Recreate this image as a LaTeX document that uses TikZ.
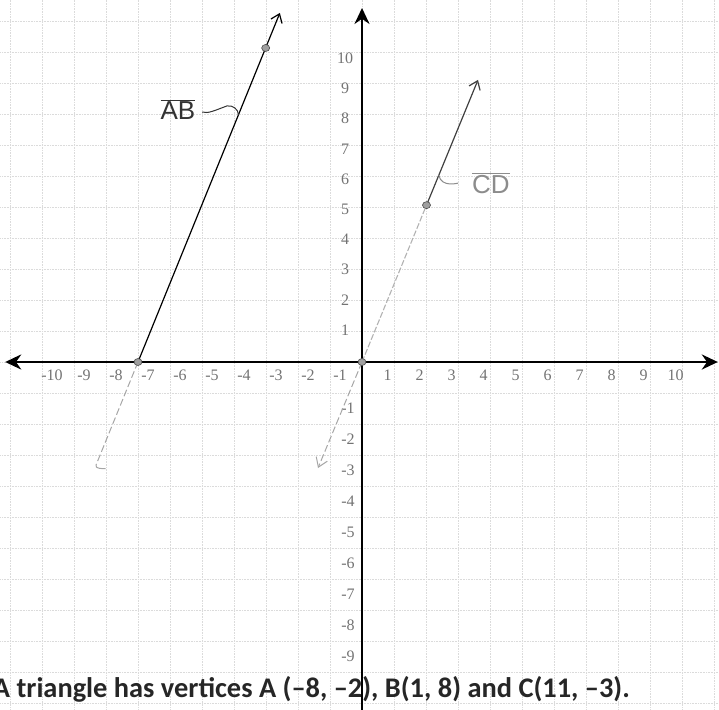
\documentclass[tikz,border=0pt]{standalone}
\usepackage{fontspec}
\setmainfont{Liberation Serif}
\newfontfamily\calfont{Carlito}
\newfontfamily\handfont{Liberation Sans}
\usetikzlibrary{arrows.meta}

\tikzset{
  gridline/.style={gray!28, densely dotted, line width=0.6pt},
  axis/.style={line width=2.6pt, black},
  ticklabel/.style={text=black!55, font=\fontsize{16}{16}\selectfont, inner sep=0pt},
  segdot/.style={ellipse, fill=gray!75, draw=black!70, line width=0.6pt, inner sep=0pt, minimum width=8pt, minimum height=7pt},
  handlabel/.style={font=\handfont\fontsize{26}{26}\selectfont, inner sep=1pt},
  penline/.style={line width=1.2pt},
  pencil/.style={gray!70, line width=1pt, dash pattern=on 7pt off 3pt},
}
\usetikzlibrary{shapes.geometric}

\begin{document}
\begin{tikzpicture}[x=32pt, y=31pt]
    \useasboundingbox (-11.3125,-11.1935) rectangle (11.15625,11.6774);
    \clip (-11.3125,-11.1935) rectangle (11.15625,11.6774);

    % Grid
    \foreach \i in {-11,...,11} {
        \draw[gridline] (\i,-11.3) -- (\i,11.7);
        \draw[gridline] (-11.4,\i) -- (11.2,\i);
    }

    % Statement under the grid
    \node[anchor=base east, inner sep=0pt, text=black!85, font=\calfont\bfseries\fontsize{28.4}{30}\selectfont] (stmt) at (8.375,-10.81) {A triangle has vertices A (–8, –2), B(1, 8) and C(11, –3).};

    % Axes
    \draw[axis, {Stealth[length=16pt,width=15pt]}-{Stealth[length=16pt,width=15pt]}] (-11.15,0) -- (11.12,0);
    \draw[axis, -{Stealth[length=16pt,width=15pt]}] (0,-11.3) -- (0,11.42);
    \coordinate (O) at (0,0);

    % Ticks
    \foreach \n in {1,...,10} \node[ticklabel] at (\n-0.2,-0.42) {\n};
    \foreach \n in {1,...,10} \node[ticklabel] at (-\n+0.31,-0.42) {-\n};
    \foreach \n in {1,...,10} \node[ticklabel] at (-0.53,0.974*\n+0.06) {\n};
    \foreach \n in {1,...,9} \node[ticklabel] at (-0.44,-\n-0.48) {-\n};

    % Line AB
    \coordinate (xa) at (-7,0);
    \coordinate (abtop) at (-2.567,11.26);
    \coordinate (abend) at (-8.31,-3.32);
    \coordinate (abdot) at (-3.01,10.13);
    \coordinate (abmid) at (-4.22,8.26);
    \coordinate (abhook) at (-3.86,7.97);
    \draw[penline, -{Straight Barb[length=8pt,width=12pt]}] (xa) -- (abtop);
    \draw[pencil] (xa) -- (abend);
    \draw[gray!70, line width=1pt] (abend) to[out=-110, in=180] ++(0.3,-0.12);
    \node[handlabel, text=black!80] (ablbl) at (-5.75,8.13) {$\overline{\mbox{AB}}$};
    \draw[black!80, line width=1pt, shorten <=6pt] (ablbl.east) to[out=-20, in=200] (abmid) to[out=10, in=90] (abhook);

    % Line CD
    \coordinate (cdtop) at (3.625,9.10);
    \coordinate (cddot) at (2.016,5.06);
    \coordinate (cdend) at (-1.375,-3.42);
    \coordinate (cdhook) at (2.40,6.03);
    \draw[gray!60, line width=1.1pt, dash pattern=on 6pt off 2pt] (O) -- (cddot);
    \draw[black!75, penline, -{Straight Barb[length=8pt,width=12pt]}] (cddot) -- (cdtop);
    \draw[pencil, -{Straight Barb[length=9pt,width=12pt]}] (O) -- (cdend);
    \node[handlabel, text=gray!90] (cdlbl) at (4.03,5.77) {$\overline{\mbox{CD}}$};
    \draw[gray!90, line width=1pt, shorten >=13pt] (cdhook) to[out=-80, in=180] (cdlbl.west);

    % Points
    \foreach \p in {xa, O, abdot, cddot} \node[segdot] (dot-\p) at (\p) {};
\end{tikzpicture}
\end{document}
